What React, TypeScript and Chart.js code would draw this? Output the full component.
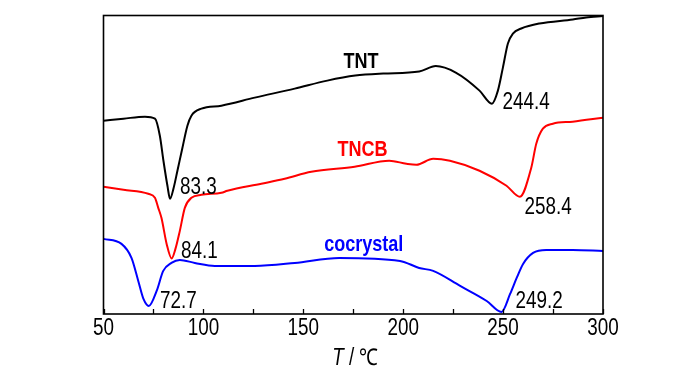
import React, { useEffect, useRef } from "react";
import { Chart, registerables } from "chart.js";

Chart.register(...registerables);

// Temperature (°C) and heat-flow (arbitrary units, endo down)
const tntT = [50, 60, 70.75, 75.75, 78.2, 80, 82, 83.3, 85, 87, 89.4, 92, 94, 99, 109, 125.7, 145.7, 162, 176, 190, 208, 216.3, 226.3, 238.2, 244.4, 247.4, 249.9, 252.4, 254.9, 259.1, 268.2, 284.9, 291.6, 300];
const tntV = [19.3, 19.5, 19.7, 19.5, 17.8, 15.3, 12.8, 11.5, 12.5, 14.3, 16.5, 18.8, 19.8, 20.5, 20.8, 21.6, 22.5, 23.3, 23.8, 24.0, 24.2, 24.75, 24.1, 22.3, 21.0, 22.3, 24.6, 27.0, 28.0, 28.5, 29.0, 29.4, 29.6, 29.75];

const tncbT = [50, 60, 72.4, 75.75, 77.4, 79, 81.6, 84.1, 86, 88.2, 90.7, 94, 99, 109, 112, 129, 140.7, 154, 175.7, 193, 201.6, 206.6, 215, 223.4, 238.2, 251.7, 258.4, 264.1, 266.6, 269.9, 274.9, 284.8, 300];
const tncbV = [12.7, 12.4, 12.0, 11.6, 10.6, 9.6, 7.0, 5.55, 6.5, 8.3, 10.6, 11.6, 11.9, 12.1, 12.3, 13.0, 13.5, 14.2, 14.7, 15.3, 15.0, 14.9, 15.5, 15.3, 14.3, 12.8, 11.7, 14.6, 17.0, 18.5, 19.0, 19.2, 19.6];

const coT = [50, 59, 64, 67.4, 70, 72.7, 76.6, 79.9, 84, 88.2, 95.7, 105.7, 125.7, 145.7, 168, 198.4, 208, 215, 228.5, 241.8, 249.2, 253.5, 256.8, 260, 265, 271.6, 284.8, 300];
const coV = [7.5, 7.0, 5.6, 3.3, 1.5, 0.8, 2.3, 4.3, 5.1, 5.4, 5.1, 4.8, 4.8, 5.1, 5.6, 5.3, 4.6, 4.3, 2.8, 1.3, 0.2, 2.0, 3.6, 5.0, 6.1, 6.4, 6.4, 6.3];

const seriesNames = ["TNT", "TNCB", "cocrystal"];
const seriesColors = ["#000000", "#ff0000", "#0000ff"];

// Peak labels: text, anchor temperature, anchor heat flow (left/baseline)
const peakTexts = ["83.3", "244.4", "84.1", "258.4", "72.7", "249.2"];
const peakX = [88.25, 249.75, 88.75, 260.75, 78.25, 256.25];
const peakY = [12.0, 20.5, 5.6, 10.0, 0.6, 0.6];

// Series name labels: centre temperature, baseline heat flow
const nameX = [178.9, 179.6, 180.25];
const nameY = [24.57, 15.8, 6.3];

const xMin = 50;
const xMax = 300;
const xStep = 50;
const yMin = 0;
const yMax = 29.8;

const NARROW = 0.82;

function narrowText(ctx: CanvasRenderingContext2D, text: string, x: number, y: number, font: string, color: string, align: CanvasTextAlign) {
  ctx.save();
  ctx.translate(x, y);
  ctx.scale(NARROW, 1);
  ctx.font = font;
  ctx.fillStyle = color;
  ctx.textAlign = align;
  ctx.textBaseline = "alphabetic";
  ctx.fillText(text, 0, 0);
  ctx.restore();
}

const decor = {
  id: "decor",
  afterDraw(chart: any) {
    const ctx: CanvasRenderingContext2D = chart.ctx;
    const a = chart.chartArea;
    const xs = chart.scales.x;
    const ys = chart.scales.y;
    ctx.save();
    // frame
    ctx.strokeStyle = "#000";
    ctx.lineWidth = 1.6;
    ctx.strokeRect(a.left, a.top, a.right - a.left, a.bottom - a.top);
    // inward ticks (major + minor)
    ctx.lineWidth = 1.3;
    for (let v = xMin; v <= xMax; v += xStep / 2) {
      const px = Math.round(xs.getPixelForValue(v)) + 0.5;
      ctx.beginPath();
      ctx.moveTo(px, a.bottom);
      ctx.lineTo(px, a.bottom - 5);
      ctx.stroke();
    }
    // tick labels
    const tickFont = "23px 'Liberation Sans', Arial, sans-serif";
    xs.ticks.forEach((t: any) => {
      narrowText(ctx, String(t.value), xs.getPixelForValue(t.value), a.bottom + 21, tickFont, "#000", "center");
    });
    // axis title: T / ℃
    ctx.save();
    const cx = (a.left + a.right) / 2 + 2;
    const by = a.bottom + 51;
    ctx.font = "italic 23px 'Liberation Sans', Arial, sans-serif";
    const wT = ctx.measureText("T").width * NARROW;
    ctx.font = "23px 'Liberation Sans', Arial, sans-serif";
    const rest = " / ℃";
    const wR = ctx.measureText(rest).width * NARROW;
    const start = cx - (wT + wR) / 2;
    ctx.restore();
    narrowText(ctx, "T", start, by, "italic 23px 'Liberation Sans', Arial, sans-serif", "#000", "left");
    narrowText(ctx, rest, start + wT, by, "23px 'Liberation Sans', Arial, sans-serif", "#000", "left");
    // peak labels
    const numFont = "23px 'Liberation Sans', Arial, sans-serif";
    peakTexts.forEach((s, i) => {
      narrowText(ctx, s, xs.getPixelForValue(peakX[i]), ys.getPixelForValue(peakY[i]), numFont, "#000", "left");
    });
    // series names
    const nameFont = "bold 22px 'Liberation Sans', Arial, sans-serif";
    seriesNames.forEach((s, i) => {
      narrowText(ctx, s, xs.getPixelForValue(nameX[i]), ys.getPixelForValue(nameY[i]), nameFont, seriesColors[i], "center");
    });
    ctx.restore();
  },
};

function toPoints(t: number[], v: number[]) {
  return t.map((x, i) => ({ x, y: v[i] }));
}

export default function App() {
  const ref = useRef<HTMLCanvasElement | null>(null);
  useEffect(() => {
    if (!ref.current) return;
    const sets = [toPoints(tntT, tntV), toPoints(tncbT, tncbV), toPoints(coT, coV)];
    const chart = new Chart(ref.current, {
      type: "line",
      data: {
        datasets: sets.map((d, i) => ({
          label: seriesNames[i],
          data: d,
          borderColor: seriesColors[i],
          backgroundColor: seriesColors[i],
          borderWidth: 2,
          pointRadius: 0,
          cubicInterpolationMode: "monotone" as const,
          fill: false,
          clip: false as any,
        })),
      },
      options: {
        animation: false,
        responsive: true,
        maintainAspectRatio: false,
        layout: { padding: { left: 103.5, right: 97, top: 15.5, bottom: 60 } },
        plugins: { legend: { display: false }, tooltip: { enabled: false } },
        scales: {
          x: {
            type: "linear",
            display: false,
            min: xMin,
            max: xMax,
            ticks: { stepSize: xStep },
          },
          y: { type: "linear", display: false, min: yMin, max: yMax },
        },
      },
      plugins: [decor],
    });
    return () => chart.destroy();
  }, []);
  return (
    <div style={{ position: "fixed", left: 0, top: 0, width: 700, height: 374, background: "#fff" }}>
      <canvas ref={ref} />
    </div>
  );
}
